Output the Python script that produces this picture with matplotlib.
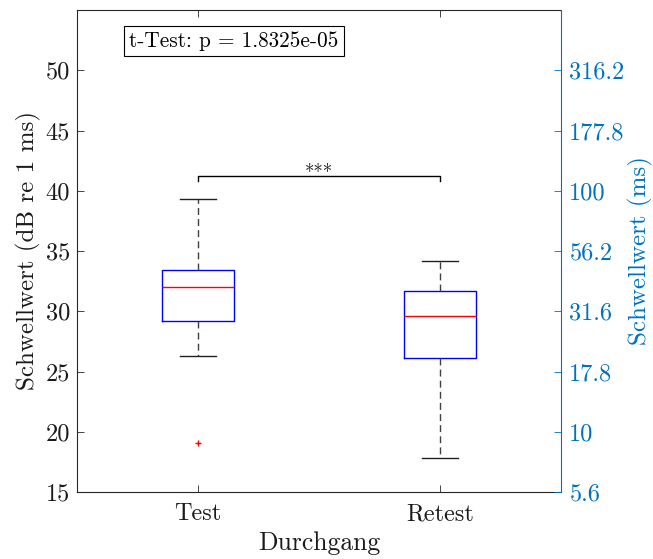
import matplotlib
matplotlib.use("Agg")
import matplotlib.pyplot as plt
from matplotlib.ticker import FixedLocator, FixedFormatter

plt.rcParams['font.family'] = 'cmr10'
plt.rcParams['axes.unicode_minus'] = False
plt.rcParams['axes.formatter.use_mathtext'] = True

# Box statistics (dB re 1 ms)
groups = ["Test", "Retest"]
whisker_low = [26.3, 17.8]
q1 = [29.2, 26.1]
median = [32.0, 29.6]
q3 = [33.45, 31.65]
whisker_high = [39.3, 34.2]
outliers = [[19.1], []]

p_value_text = "t-Test: p = 1.8325e-05"
sig_stars = "***"
sig_level = 41.25

left_ticks = [15, 20, 25, 30, 35, 40, 45, 50]

blue_axis = '#0072BD'
dark = '#1a1a1a'

fig = plt.figure(figsize=(6.53, 5.59), dpi=100)
ax = fig.add_axes([77 / 653, 67 / 559, 484 / 653, 482 / 559])

stats = []
for i, g in enumerate(groups):
    stats.append(dict(label=g, whislo=whisker_low[i], q1=q1[i], med=median[i],
                      q3=q3[i], whishi=whisker_high[i], fliers=outliers[i]))

positions = list(range(1, len(groups) + 1))
ax.bxp(stats, positions=positions, widths=0.3, showfliers=True,
       boxprops=dict(color='#0000FF', linewidth=1.0),
       medianprops=dict(color='#FF0000', linewidth=1.0),
       whiskerprops=dict(color='#404040', linewidth=1.0, linestyle=(0, (5, 3))),
       capprops=dict(color='#202020', linewidth=1.0),
       flierprops=dict(marker='+', markeredgecolor='#FF0000', markersize=5,
                       markeredgewidth=1.0, linestyle='none'),
       capwidths=0.15)

ax.set_xlim(0.5, 2.5)
ax.set_ylim(15, 55)
ax.yaxis.set_major_locator(FixedLocator(left_ticks))
ax.set_yticklabels([str(v) for v in left_ticks])
ax.set_xticks(positions)
ax.set_xticklabels(groups)
ax.tick_params(axis='both', direction='in', labelsize=17.5, length=5, width=0.6,
               colors='#262626', labelcolor=dark, top=True)
ax.tick_params(axis='x', pad=8)
ax.tick_params(axis='y', pad=5)
for side in ['left', 'bottom', 'top']:
    ax.spines[side].set_color('#262626')
    ax.spines[side].set_linewidth(0.8)
ax.spines['right'].set_visible(False)

ax.set_xlabel("Durchgang", fontsize=18.5, color=dark, labelpad=4)
ax.set_ylabel("Schwellwert (dB re 1 ms)", fontsize=18, color=dark, labelpad=3)

# significance bracket
tick_drop = 0.4
ax.plot([positions[0], positions[0], positions[1], positions[1]],
        [sig_level - tick_drop, sig_level, sig_level, sig_level - tick_drop],
        color='black', linewidth=1.0)
ax.text((positions[0] + positions[1]) / 2, sig_level - 0.65, sig_stars,
        ha='center', va='bottom', fontsize=13.5, color=dark)

ax.text(0.715, 52.4, p_value_text, ha='left', va='center', fontsize=15.3,
        color='black',
        bbox=dict(boxstyle='square,pad=0.25', facecolor='white',
                  edgecolor='black', linewidth=0.8))

# right axis: threshold converted to ms
ax2 = ax.twinx()
ax2.set_ylim(ax.get_ylim())
ax2.yaxis.set_major_locator(FixedLocator(left_ticks))
right_labels = []
for v in left_ticks:
    ms = round(10 ** (v / 20), 1)
    right_labels.append(f"{ms:g}")
ax2.yaxis.set_major_formatter(FixedFormatter(right_labels))
ax2.tick_params(axis='y', direction='in', labelsize=17.5, length=5, width=0.6,
                colors=blue_axis, labelcolor=blue_axis, pad=6)
for side in ['left', 'bottom', 'top']:
    ax2.spines[side].set_visible(False)
ax2.spines['right'].set_color(blue_axis)
ax2.spines['right'].set_linewidth(0.8)
ax2.set_ylabel("Schwellwert (ms)", fontsize=18, color=blue_axis, labelpad=2)

fig.savefig("out.png", dpi=100)
